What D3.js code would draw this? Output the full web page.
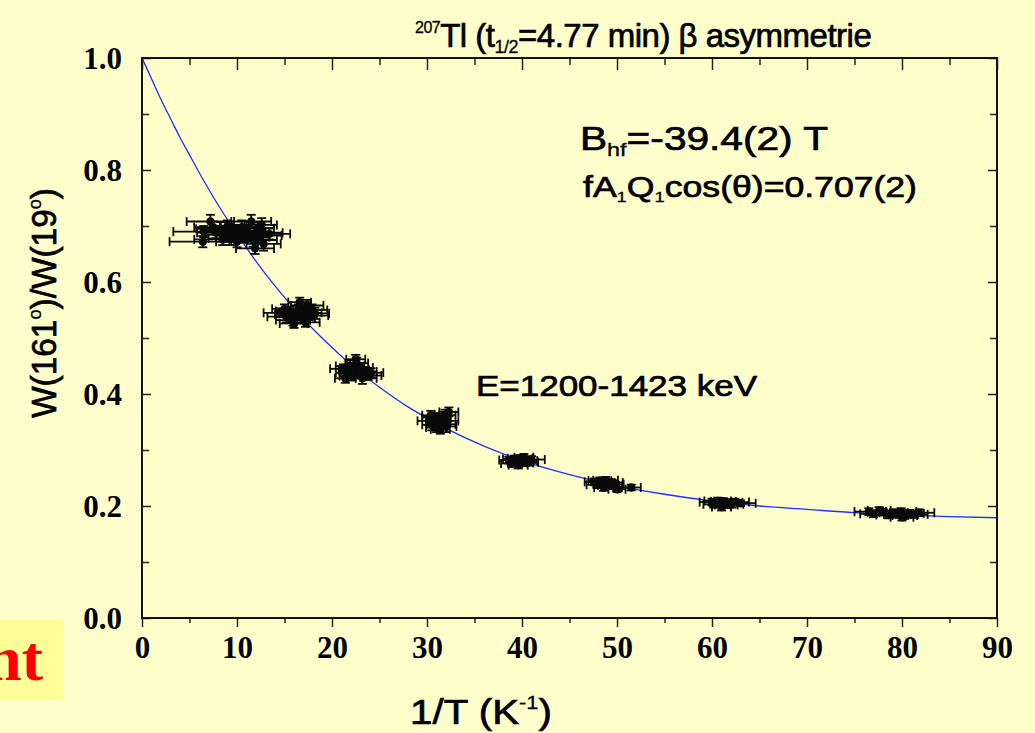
<!DOCTYPE html>
<html>
<head>
<meta charset="utf-8">
<script src="https://cdn.jsdelivr.net/npm/d3@7"></script>
<style>
  html, body { margin: 0; padding: 0; background: #FFFFCC; }
  svg { display: block; }
</style>
</head>
<body>
<svg id="chart" width="1035" height="733"></svg>
<script>
// Measured ratio W(161°)/W(19°) versus inverse temperature, grouped by run.
// Each entry: [1/T, ratio, error in 1/T, error in ratio]
const runA = [
  [6.5,0.690,3.2,0.010],[7.2,0.708,2.5,0.012],[6.4,0.672,3.5,0.010],[7.8,0.688,2.0,0.010],
  [8.3,0.695,2.6,0.012],[8.8,0.684,2.2,0.010],[9.0,0.700,1.8,0.010],[9.4,0.678,2.4,0.012],
  [9.8,0.692,3.0,0.010],[10.2,0.686,2.0,0.010],[10.5,0.698,2.3,0.012],[10.8,0.680,2.6,0.010],
  [11.1,0.690,1.9,0.010],[11.5,0.708,2.1,0.012],[11.7,0.675,2.5,0.012],[12.0,0.688,2.8,0.010],
  [12.2,0.696,1.7,0.010],[12.5,0.683,2.2,0.012],[12.8,0.668,1.8,0.012],[11.9,0.660,2.0,0.010],
  [13.4,0.686,2.2,0.010],[10.0,0.672,2.2,0.010],[8.5,0.676,3.0,0.010],[12.6,0.702,1.6,0.012],
  [7.5,0.698,2.0,0.010]
];
const runB = [
  [14.6,0.545,1.8,0.008],[15.2,0.538,2.0,0.010],[15.6,0.548,1.5,0.008],[15.9,0.532,1.8,0.010],
  [16.2,0.542,2.2,0.010],[16.5,0.552,1.6,0.008],[16.8,0.536,1.4,0.010],[17.0,0.545,1.9,0.010],
  [17.2,0.528,1.5,0.008],[17.4,0.558,1.7,0.010],[17.6,0.540,2.0,0.008],[17.9,0.550,1.6,0.010],
  [16.0,0.526,1.5,0.008],[15.0,0.552,1.3,0.008],[18.2,0.544,1.5,0.010],[16.6,0.564,1.2,0.008]
];
const runC = [
  [21.2,0.445,1.4,0.008],[21.6,0.438,1.2,0.008],[21.9,0.450,1.5,0.010],[22.1,0.432,1.3,0.008],
  [22.3,0.443,1.6,0.008],[22.6,0.455,1.2,0.010],[22.8,0.436,1.4,0.008],[23.0,0.447,1.3,0.008],
  [23.2,0.428,1.5,0.010],[23.5,0.440,1.2,0.008],[23.8,0.433,1.4,0.008],[21.4,0.428,1.1,0.008],
  [22.5,0.462,1.0,0.008],[24.1,0.438,1.3,0.008],[22.0,0.440,1.2,0.010]
];
const runD = [
  [30.2,0.352,1.2,0.008],[30.5,0.345,1.0,0.010],[30.8,0.358,1.3,0.008],[31.0,0.340,1.1,0.008],
  [31.2,0.350,1.2,0.010],[31.5,0.356,1.0,0.008],[31.7,0.346,1.3,0.008],[31.9,0.362,1.1,0.010],
  [32.1,0.352,1.2,0.008],[32.3,0.368,1.0,0.008],[30.4,0.362,0.9,0.008],[31.4,0.337,1.0,0.008],
  [32.0,0.342,1.1,0.010]
];
const runE = [
  [38.6,0.282,1.0,0.006],[38.9,0.276,1.1,0.006],[39.2,0.284,1.2,0.006],[39.5,0.279,1.0,0.006],
  [39.8,0.285,1.3,0.006],[40.1,0.277,1.1,0.006],[40.4,0.281,1.2,0.006],[40.7,0.278,1.0,0.006],
  [41.0,0.283,1.4,0.006],[39.6,0.273,1.0,0.006],[40.2,0.287,1.0,0.006]
];
const runF = [
  [47.6,0.243,1.0,0.006],[47.9,0.238,1.1,0.006],[48.2,0.245,1.2,0.006],[48.5,0.240,1.0,0.006],
  [48.8,0.246,1.3,0.006],[49.1,0.237,1.1,0.006],[49.4,0.242,1.2,0.006],[49.7,0.239,1.0,0.006],
  [48.6,0.233,1.0,0.006],[50.0,0.230,0.9,0.005],[51.5,0.233,1.0,0.005]
];
const runG = [
  [60.0,0.207,1.3,0.006],[60.3,0.203,1.2,0.006],[60.6,0.209,1.4,0.006],[60.9,0.204,1.1,0.006],
  [61.2,0.208,1.3,0.006],[61.5,0.202,1.2,0.006],[61.8,0.206,1.4,0.006],[62.1,0.203,1.2,0.006],
  [62.4,0.207,1.5,0.006],[61.0,0.198,1.0,0.006],[63.0,0.205,1.6,0.005]
];
const runH = [
  [76.5,0.190,1.5,0.006],[77.0,0.186,1.4,0.006],[78.0,0.189,1.6,0.006],[78.6,0.184,1.3,0.006],
  [79.1,0.188,1.5,0.006],[79.5,0.185,1.4,0.006],[79.9,0.190,1.6,0.006],[80.3,0.183,1.3,0.006],
  [80.8,0.187,1.5,0.006],[81.3,0.185,1.4,0.006],[81.8,0.188,1.6,0.006],[80.0,0.180,1.2,0.006],
  [77.6,0.192,1.2,0.006]
];

// Fitted curve sampled along 1/T
const fitX = [0,1,2,3,4,5,6,8,10,12,14,16,18,20,22,25,28,30,33,36,40,45,50,55,60,65,70,75,80,85,90];
const fitY = [1.000,0.963,0.926,0.892,0.858,0.827,0.796,0.738,0.686,0.637,0.593,0.553,0.516,0.483,0.452,
              0.412,0.377,0.357,0.330,0.307,0.281,0.256,0.236,0.221,0.209,0.200,0.194,0.188,0.184,0.181,0.179];

const xMajorTicks = [0,10,20,30,40,50,60,70,80,90];
const xMinorTicks = [5,15,25,35,45,55,65,75,85];
const yMajorTicks = [0.0,0.2,0.4,0.6,0.8,1.0];
const yMinorTicks = [0.1,0.3,0.5,0.7,0.9];

const svg = d3.select("#chart");
const W = 1035, H = 733;
const m = { left: 142, right: 997, top: 58, bottom: 618 };

svg.append("rect").attr("width", W).attr("height", H).attr("fill", "#FFFFCC");

// box with partially visible word at the lower left
svg.append("rect").attr("x", 0).attr("y", 620).attr("width", 63).attr("height", 80).attr("fill", "#FFFF99");
svg.append("text").attr("x", 43).attr("y", 680).attr("text-anchor", "end")
  .attr("font-family", "Liberation Serif").attr("font-weight", "bold").attr("font-size", 64)
  .attr("fill", "#FF0000").text("nt");

const x = d3.scaleLinear().domain([0, 90]).range([m.left, m.right]);
const y = d3.scaleLinear().domain([0, 1]).range([m.bottom, m.top]);

// fitted curve
const fitPts = fitX.map((v, i) => [v, fitY[i]]);
svg.append("path").datum(fitPts)
  .attr("fill", "none").attr("stroke", "#1F2FFF").attr("stroke-width", 1.3)
  .attr("d", d3.line().x(d => x(d[0])).y(d => y(d[1])).curve(d3.curveMonotoneX));

// data with error bars
const allRuns = [runA, runB, runC, runD, runE, runF, runG, runH];
const pts = svg.append("g").attr("stroke", "#0a0a0a").attr("stroke-width", 1.8).attr("fill", "#0a0a0a");
const cap = 4.5;
allRuns.forEach(run => {
  run.forEach(([px, py, dx, dy]) => {
    const g = pts.append("g");
    const cx = x(px), cy = y(py);
    const x0 = x(px - dx), x1 = x(px + dx);
    const y0 = y(py - dy), y1 = y(py + dy);
    g.append("line").attr("x1", x0).attr("x2", x1).attr("y1", cy).attr("y2", cy);
    g.append("line").attr("x1", x0).attr("x2", x0).attr("y1", cy - cap).attr("y2", cy + cap);
    g.append("line").attr("x1", x1).attr("x2", x1).attr("y1", cy - cap).attr("y2", cy + cap);
    g.append("line").attr("x1", cx).attr("x2", cx).attr("y1", y0).attr("y2", y1);
    g.append("line").attr("x1", cx - cap).attr("x2", cx + cap).attr("y1", y0).attr("y2", y0);
    g.append("line").attr("x1", cx - cap).attr("x2", cx + cap).attr("y1", y1).attr("y2", y1);
    g.append("circle").attr("cx", cx).attr("cy", cy).attr("r", 4.2).attr("stroke", "none");
  });
});

// axes
const tickFont = g => g.selectAll("text")
  .attr("font-family", "Liberation Serif").attr("font-weight", "bold")
  .attr("font-size", 31).attr("fill", "#000");
const cleanDomain = g => g.select(".domain").remove();

svg.append("g").attr("transform", `translate(0,${m.bottom})`)
  .call(d3.axisBottom(x).tickValues(xMajorTicks).tickSize(9).tickFormat(d3.format("d")))
  .call(cleanDomain)
  .call(tickFont)
  .call(g => g.selectAll("text").attr("y", 40).attr("dy", 0));
svg.append("g").attr("transform", `translate(0,${m.bottom})`)
  .call(d3.axisBottom(x).tickValues(xMinorTicks).tickSize(5).tickFormat(""))
  .call(cleanDomain);
svg.append("g").attr("transform", `translate(0,${m.top})`)
  .call(d3.axisTop(x).tickValues(xMajorTicks).tickSize(-12).tickFormat(""))
  .call(cleanDomain);
svg.append("g").attr("transform", `translate(0,${m.top})`)
  .call(d3.axisTop(x).tickValues(xMinorTicks).tickSize(-7).tickFormat(""))
  .call(cleanDomain);

svg.append("g").attr("transform", `translate(${m.left},0)`)
  .call(d3.axisLeft(y).tickValues(yMajorTicks).tickSize(-9).tickPadding(20).tickFormat(d3.format(".1f")))
  .call(cleanDomain)
  .call(tickFont)
  .call(g => g.selectAll("text").attr("dy", "0.34em"));
svg.append("g").attr("transform", `translate(${m.left},0)`)
  .call(d3.axisLeft(y).tickValues(yMinorTicks).tickSize(-7).tickFormat(""))
  .call(cleanDomain);
svg.append("g").attr("transform", `translate(${m.right},0)`)
  .call(d3.axisRight(y).tickValues(yMajorTicks).tickSize(-9).tickFormat(""))
  .call(cleanDomain);
svg.append("g").attr("transform", `translate(${m.right},0)`)
  .call(d3.axisRight(y).tickValues(yMinorTicks).tickSize(-7).tickFormat(""))
  .call(cleanDomain);

svg.selectAll(".tick line").attr("stroke", "#222").attr("stroke-width", 1.5);

// frame
svg.append("rect").attr("x", m.left).attr("y", m.top)
  .attr("width", m.right - m.left).attr("height", m.bottom - m.top)
  .attr("fill", "none").attr("stroke", "#111").attr("stroke-width", 2);

// sans-serif labels, slightly heavy strokes
const sans = sel => sel.attr("font-family", "Liberation Sans").attr("fill", "#000")
  .attr("stroke", "#000").attr("stroke-width", 0.7);

// title
const title = svg.append("text").attr("x", 415).attr("y", 47).call(sans)
  .attr("font-size", 33).attr("letter-spacing", -0.5);
title.append("tspan").attr("font-size", 16).attr("stroke-width", 0.3).attr("dy", -14).text("207");
title.append("tspan").attr("dy", 14).text("Tl (t");
title.append("tspan").attr("font-size", 18).attr("stroke-width", 0.3).attr("dy", 6).text("1/2");
title.append("tspan").attr("dy", -6).text("=4.77 min) β asymmetrie");

// fit parameters
const t1 = svg.append("text").attr("x", 580).attr("y", 150).call(sans)
  .attr("font-size", 33)
  .attr("textLength", 248).attr("lengthAdjust", "spacingAndGlyphs");
t1.append("tspan").text("B");
t1.append("tspan").attr("font-size", 19).attr("stroke-width", 0.3).attr("dy", 6).text("hf");
t1.append("tspan").attr("dy", -6).text("=-39.4(2) T");

const t2 = svg.append("text").attr("x", 583).attr("y", 197).call(sans)
  .attr("font-size", 29)
  .attr("textLength", 334).attr("lengthAdjust", "spacingAndGlyphs");
t2.append("tspan").text("fA");
t2.append("tspan").attr("font-size", 15).attr("stroke-width", 0.3).attr("dy", 5).text("1");
t2.append("tspan").attr("dy", -5).text("Q");
t2.append("tspan").attr("font-size", 15).attr("stroke-width", 0.3).attr("dy", 5).text("1");
t2.append("tspan").attr("dy", -5).text("cos(θ)=0.707(2)");

svg.append("text").attr("x", 476).attr("y", 396).call(sans)
  .attr("font-size", 29)
  .attr("textLength", 281).attr("lengthAdjust", "spacingAndGlyphs")
  .text("E=1200-1423 keV");

// axis titles
const xt = svg.append("text").attr("x", 410).attr("y", 724).call(sans)
  .attr("font-size", 35)
  .attr("textLength", 142).attr("lengthAdjust", "spacingAndGlyphs");
xt.append("tspan").text("1/T (K");
xt.append("tspan").attr("font-size", 19).attr("stroke-width", 0.3).attr("dy", -15).text("-1");
xt.append("tspan").attr("dy", 15).text(")");

const yt = svg.append("text").attr("transform", "translate(56,418) rotate(-90)").call(sans)
  .attr("font-size", 35)
  .attr("textLength", 230).attr("lengthAdjust", "spacingAndGlyphs");
yt.append("tspan").text("W(161");
yt.append("tspan").attr("font-size", 19).attr("stroke-width", 0.3).attr("dy", -15).text("o");
yt.append("tspan").attr("dy", 15).text(")/W(19");
yt.append("tspan").attr("font-size", 19).attr("stroke-width", 0.3).attr("dy", -15).text("o");
yt.append("tspan").attr("dy", 15).text(")");
</script>
</body>
</html>
